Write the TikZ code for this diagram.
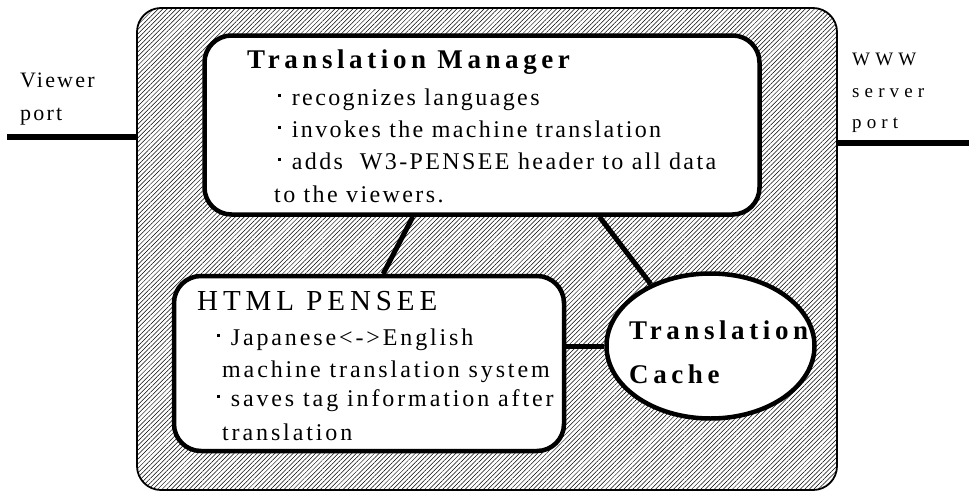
\documentclass[tikz,border=0pt]{standalone}
\usepackage{fontspec}
\setmainfont{Liberation Serif}
\newfontfamily\itemfont[LetterSpace=10]{Liberation Serif}
\newfontfamily\pensfont[LetterSpace=12]{Liberation Serif}
\newfontfamily\headfont[LetterSpace=17]{Liberation Serif}
\newfontfamily\portfont[LetterSpace=10]{Liberation Serif}
\newfontfamily\wwwfont[LetterSpace=27]{Liberation Serif}
\usetikzlibrary{shapes.geometric,patterns.meta}
\newcommand{\itemdot}{\raisebox{8.5pt}{\rule{2.6pt}{2.6pt}}\hspace{11pt}}
\begin{document}
\begin{tikzpicture}[x=1pt,y=-1pt,
  hatched/.style={draw=black, line width=1.8pt, rounded corners=24pt, inner sep=0pt,
    pattern={Lines[angle=45,distance=3.2pt,line width=0.5pt]}},
  unit/.style={draw=black, fill=white, line width=4.5pt, rounded corners=27pt, inner sep=0pt},
  store/.style={ellipse, draw=black, fill=white, line width=4.5pt, inner sep=0pt},
  link/.style={line width=5pt},
  port/.style={line width=6pt},
  txt/.style={anchor=base west, inner sep=0pt},
  portlabel/.style={txt, font=\portfont\fontsize{22}{24}\selectfont},
  wwwlabel/.style={txt, font=\wwwfont\fontsize{19}{21}\selectfont},
  boldhead/.style={txt, font=\headfont\fontsize{27}{29}\selectfont\bfseries},
  penshead/.style={txt, font=\headfont\fontsize{29}{31}\selectfont},
  tmitem/.style={txt, font=\itemfont\fontsize{24}{26}\selectfont},
  hpitem/.style={txt, font=\pensfont\fontsize{24}{26}\selectfont}]
\useasboundingbox (0,0) rectangle (969,493);
% the proxy server
\node [hatched, minimum width=700pt, minimum height=482pt] (proxy) at (487,249) {};
\coordinate (viewerend) at (7,137);
\coordinate (wwwend) at (969,143);
\draw [port] (viewerend) -- (viewerend -| proxy.west);
\draw [port] (wwwend) -- (wwwend -| proxy.east);
\node [portlabel] (viewer1) at (20,87) {Viewer};
\node [portlabel] (viewer2) at (20,120) {port};
\node [wwwlabel] (www1) at (852,65) {WWW};
\node [wwwlabel] (www2) at (852,97) {server};
\node [wwwlabel] (www3) at (852,128) {port};
% the three parts
\node [unit, minimum width=555pt, minimum height=179pt] (manager) at (482,125) {};
\node [unit, minimum width=390pt, minimum height=175pt] (pensee) at (369,363.5) {};
\node [store, minimum width=208pt, minimum height=145pt] (cache) at (710.5,346) {};
\draw [link] (manager.233) -- (pensee.81);
\draw [link] (manager.322) -- (cache.134);
\draw [link] (cache.west) -- (cache.west -| pensee.east);
% Translation Manager
\node [boldhead] (tmtitle) at (247,68) {Translation Manager};
\node [tmitem] (tm1) at (278,105) {\itemdot recognizes languages};
\node [tmitem] (tm2) at (278,137) {\itemdot invokes the machine translation};
\node [tmitem] (tm3) at (278,169) {\itemdot adds\ \ W3-PENSEE header to all data};
\node [tmitem] (tm4) at (274,202) {to the viewers.};
% HTML PENSEE
\node [penshead] (hptitle) at (197,310) {HTML PENSEE};
\node [hpitem] (hp1) at (217,345) {\itemdot Japanese<->English};
\node [hpitem] (hp2) at (222,377) {machine translation system};
\node [hpitem] (hp3) at (217,406) {\itemdot saves tag information after};
\node [hpitem] (hp4) at (222,440) {translation};
% Translation Cache
\node [boldhead] (tc1) at (629,339) {Translation};
\node [boldhead] (tc2) at (629,383) {Cache};
\end{tikzpicture}
\end{document}
